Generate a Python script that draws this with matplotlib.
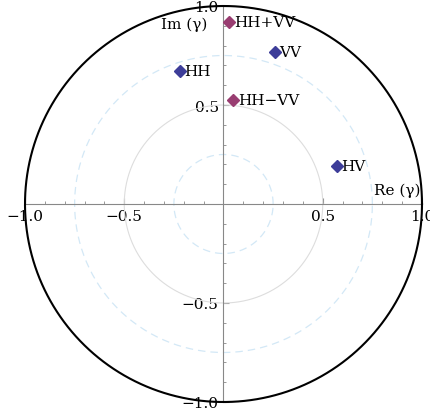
import numpy as np
import matplotlib.pyplot as plt

# puntos de coherencia (Re, Im)
etiquetas = ['HH', 'VV', 'HV', 'HH+VV', 'HH\u2212VV']
re_vals = [-0.22, 0.26, 0.57, 0.03, 0.05]
im_vals = [0.67, 0.77, 0.19, 0.92, 0.525]
colores = ['#3d3d99', '#3d3d99', '#3d3d99', '#993d71', '#993d71']

plt.rcParams['font.family'] = ['DejaVu Serif']
plt.rcParams['axes.unicode_minus'] = True

fig = plt.figure(figsize=(4.31, 4.14), dpi=100)
ax = fig.add_axes([25/431, 11/414, 397/431, 396/414])
ax.set_xlim(-1, 1)
ax.set_ylim(-1, 1)

th = np.linspace(0, 2*np.pi, 400)
ax.plot(np.cos(th), np.sin(th), color='black', lw=1.5, clip_on=False, zorder=3)
ax.plot(0.5*np.cos(th), 0.5*np.sin(th), color='#dddddd', lw=0.8)
for r in [0.25, 0.75]:
    ax.plot(r*np.cos(th), r*np.sin(th), color='#d3e8f6', lw=0.9, ls=(0, (6, 4)))

for x, y, c, lab in zip(re_vals, im_vals, colores, etiquetas):
    ax.plot(x, y, marker='D', ms=6, color=c, ls='none', zorder=4)
    ax.text(x + 0.022, y, lab, fontsize=11, va='center', ha='left')

ax.text(-0.08, 0.91, 'Im (\u03b3)', ha='right', va='center', fontsize=11)
ax.text(0.99, 0.07, 'Re (\u03b3)', ha='right', va='center', fontsize=11)

for s in ['right', 'top']:
    ax.spines[s].set_visible(False)
for s in ['left', 'bottom']:
    ax.spines[s].set_position('zero')
    ax.spines[s].set_color('#888888')
    ax.spines[s].set_linewidth(0.8)

ax.set_xticks([-1, -0.5, 0.5, 1])
ax.set_yticks([-1, -0.5, 0.5, 1])
ax.set_xticks(np.arange(-1, 1.01, 0.1), minor=True)
ax.set_yticks(np.arange(-1, 1.01, 0.1), minor=True)
ax.set_xticklabels(['\u22121.0', '\u22120.5', '0.5', '1.0'])
ax.set_yticklabels(['\u22121.0', '\u22120.5', '0.5', '1.0'])
ax.tick_params(which='both', direction='in', color='#888888', labelsize=11)
ax.tick_params(which='major', length=4, width=0.8)
ax.tick_params(which='minor', length=2.5, width=0.6)

fig.savefig('out.png', dpi=100)
